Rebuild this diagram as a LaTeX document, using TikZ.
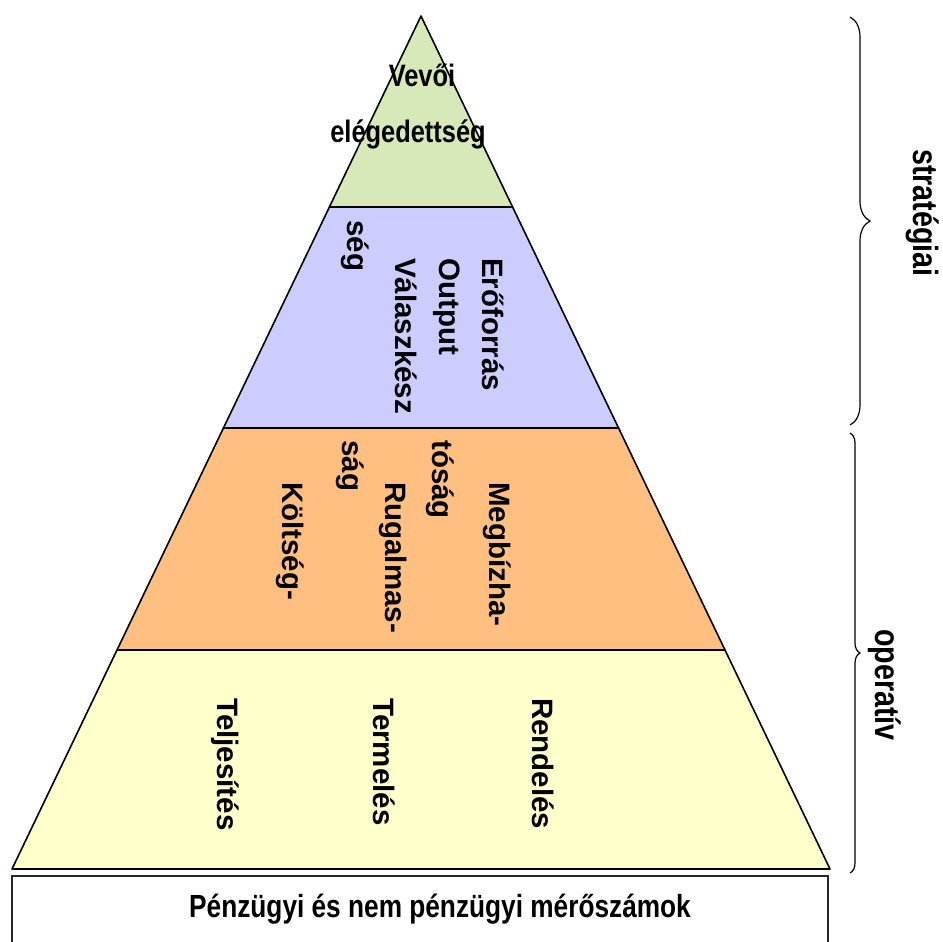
\documentclass[tikz,border=0pt]{standalone}
\usepackage{fontspec}
\setmainfont{Liberation Sans}
\newfontfamily\narrowfont[FakeStretch=0.82]{Liberation Sans}
\usetikzlibrary{calc,decorations.pathreplacing}

\definecolor{topgreen}{RGB}{215,232,185}
\definecolor{lilac}{RGB}{204,204,255}
\definecolor{peach}{RGB}{255,191,128}
\definecolor{cream}{RGB}{255,255,204}

\begin{document}
\begin{tikzpicture}[
	x=1pt, y=-1pt,
	band/.style={
		draw, line width=1.6pt, line join=round
	},
	vlabel/.style={
		rotate=-90, anchor=west, inner sep=0pt,
		text height=22pt, text depth=6pt,
		font=\fontsize{29.5}{30}\selectfont\bfseries
	},
	nlabel/.style={
		inner sep=0pt, font=\fontsize{31}{32}\selectfont\narrowfont\bfseries
	},
	sidelabel/.style={
		rotate=-90, inner sep=0pt,
		font=\fontsize{35}{36}\selectfont\narrowfont\bfseries
	},
	bracket/.style={
		decorate, decoration={brace, amplitude=#1}, line width=1.2pt
	}
]
\useasboundingbox (0,0) rectangle (943,942);

\coordinate (apex) at (421,16);
\coordinate (bl) at (12,869);
\coordinate (br) at (830,869);

% the four bands of the pyramid
\foreach \t/\b/\c in {0/0.2239/topgreen, 0.2239/0.4830/lilac,
		0.4830/0.7433/peach, 0.7433/1/cream} {
	\filldraw[band, fill=\c] ($(apex)!\t!(bl)$) -- ($(apex)!\b!(bl)$)
		-- ($(apex)!\b!(br)$) -- ($(apex)!\t!(br)$) -- cycle;
}

% base box
\draw[line width=1.6pt, draw=black!85] (12,876) rectangle (828,960);
\node[nlabel, anchor=base, font=\fontsize{32}{33}\selectfont\narrowfont\bfseries]
	(metrics) at (440,917) {Pénzügyi és nem pénzügyi mérőszámok};

% top
\node[nlabel, anchor=base] (vevoi) at (422,86) {Vevői};
\node[nlabel, anchor=base] (eleg) at (408,142) {elégedettség};

% rotated labels
\foreach \x/\y/\t [count=\i] in {
	490/258/Erőforrás, 447/258/Output, 403/258/Válaszkész, 355/220/ség,
	497/482/Megbízha-, 440/440/tóság, 393/482/Rugalmas-, 350/440/ság,
	290/482/Költség-,
	540/698/Rendelés, 381/698/Termelés, 225/698/Teljesítés} {
	\node[vlabel] (lbl\i) at (\x,\y) {\t};
}

% braces
\coordinate (s1) at (850,17);
\coordinate (s2) at (850,425);
\coordinate (o1) at (850,433);
\coordinate (o2) at (850,873);
\draw[bracket=20pt] (s1) -- (s2);
\draw[bracket=10pt] (o1) -- (o2);
\node[sidelabel] (strat) at (923,213) {stratégiai};
\node[sidelabel] (oper) at (885,685) {operatív};
\end{tikzpicture}
\end{document}
